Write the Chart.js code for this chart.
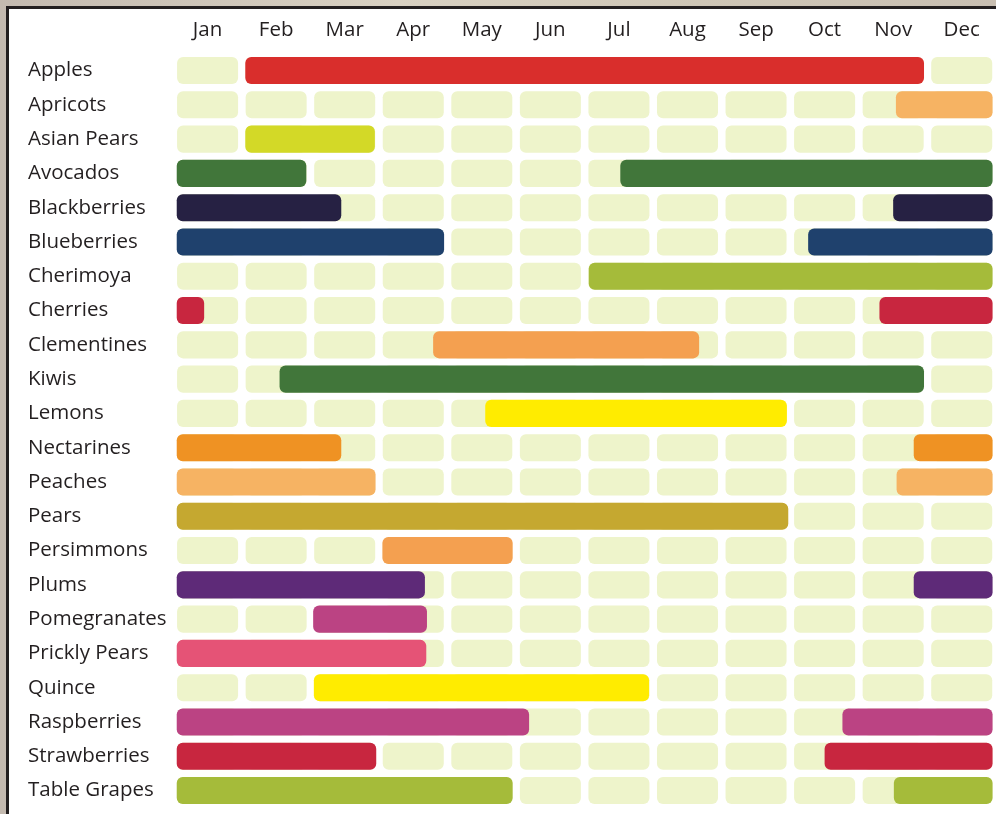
<!DOCTYPE html>
<html>
<head>
<meta charset="utf-8">
<script src="https://cdn.jsdelivr.net/npm/chart.js@4/dist/chart.umd.min.js"></script>
<style>
  html, body { margin: 0; padding: 0; }
  body {
    width: 996px; height: 814px; overflow: hidden; position: relative;
    background: linear-gradient(90deg, #c4bab0 0%, #d9d1c2 40%, #cfc6b6 70%, #c9bfb2 100%);
  }
  /* marco blanco con borde oscuro arriba e izquierda */
  #frame {
    position: absolute; left: 6px; top: 6px; right: 0; bottom: 0;
    background: #ffffff;
    border-left: 3px solid #231f20;
    border-top: 3px solid #231f20;
  }
  #seasonChart { position: absolute; left: 0; top: 0; }
</style>
</head>
<body>
<div id="frame"></div>
<canvas id="seasonChart" width="996" height="814"></canvas>
<script>
// Meses (etiquetas del eje superior)
const months = ['Jan', 'Feb', 'Mar', 'Apr', 'May', 'Jun', 'Jul', 'Aug', 'Sep', 'Oct', 'Nov', 'Dec'];

// Frutas (filas)
const fruits = [
    'Apples', 'Apricots', 'Asian Pears', 'Avocados', 'Blackberries', 'Blueberries',
    'Cherimoya', 'Cherries', 'Clementines', 'Kiwis', 'Lemons', 'Nectarines',
    'Peaches', 'Pears', 'Persimmons', 'Plums', 'Pomegranates', 'Prickly Pears',
    'Quince', 'Raspberries', 'Strawberries', 'Table Grapes'
];

// Temporada principal [inicio, fin] en meses (0 = inicio de enero, 12 = fin de diciembre)
const season1 = [
    [1.05, 10.95], [10.54, 11.95], [1.05, 2.94], [0.05, 1.94], [0.05, 2.45], [0.05, 3.95],
    [6.06, 11.95], [0.05, 0.45], [3.79, 7.67], [1.55, 10.95], [4.55, 8.95], [0.05, 2.45],
    [0.05, 2.95], [0.05, 8.97], [3.05, 4.95], [0.05, 3.67], [2.04, 3.70], [0.05, 3.69],
    [2.05, 6.94], [0.05, 5.19], [0.05, 2.96], [0.05, 4.95]
];

// Segunda temporada (fin de año), null si no hay
const season2 = [
    null, null, null, [6.52, 11.95], [10.50, 11.95], [9.26, 11.95],
    null, [10.30, 11.95], null, null, null, [10.80, 11.95],
    [10.55, 11.95], null, null, [10.80, 11.95], null, null,
    null, [9.76, 11.95], [9.50, 11.95], [10.51, 11.95]
];

// Color de cada fruta
const fruitColors = [
    '#d92e2c', '#f6b363', '#d3d927', '#41763a', '#262143', '#1f416d',
    '#a5bb3a', '#c8263f', '#f4a050', '#41763a', '#ffec00', '#ef9223',
    '#f6b363', '#c5a830', '#f4a050', '#5e2a78', '#bb4383', '#e55376',
    '#ffec00', '#bb4383', '#c8263f', '#a5bb3a'
];

const cellColor = '#eef4cb';
const textColor = '#231f20';

// Celdas de fondo: una por mes y fila
const cellDatasets = months.map(function(m, i) {
    return {
        label: m,
        data: fruits.map(function() { return [i + 0.055, i + 0.945]; }),
        backgroundColor: cellColor,
        borderRadius: 6,
        borderSkipped: false,
        grouped: false,
        order: 1
    };
});

function seasonDataset(name, values) {
    return {
        label: name,
        data: values,
        backgroundColor: fruitColors,
        borderRadius: 6,
        borderSkipped: false,
        grouped: false,
        order: 0
    };
}

const ctx = document.getElementById('seasonChart').getContext('2d');
new Chart(ctx, {
    type: 'bar',
    data: {
        labels: fruits,
        datasets: cellDatasets.concat([
            seasonDataset('Temporada 1', season1),
            seasonDataset('Temporada 2', season2)
        ])
    },
    options: {
        indexAxis: 'y',
        responsive: false,
        animation: false,
        datasets: {
            bar: {
                categoryPercentage: 1,
                barPercentage: 0.79
            }
        },
        plugins: {
            legend: { display: false },
            tooltip: { enabled: false }
        },
        layout: {
            padding: { top: 0, right: 0, bottom: 6.3, left: 28 }
        },
        scales: {
            x: {
                type: 'linear',
                position: 'top',
                min: 0,
                max: 12,
                grid: { display: false, drawTicks: false },
                border: { display: false },
                afterBuildTicks: function(scale) {
                    scale.ticks = months.map(function(m, i) { return { value: i + 0.5 }; });
                },
                afterFit: function(scale) {
                    scale.height = 53.4;
                },
                ticks: {
                    autoSkip: false,
                    maxRotation: 0,
                    padding: 10.5,
                    color: textColor,
                    font: { family: 'Open Sans', size: 20.5 },
                    callback: function(value, index) {
                        return months[index];
                    }
                }
            },
            y: {
                grid: { display: false },
                border: { display: false },
                afterFit: function(scale) {
                    scale.width = 145.3;
                    scale.paddingTop = 0;
                    scale.paddingBottom = 0;
                },
                ticks: {
                    crossAlign: 'far',
                    color: textColor,
                    font: { family: 'Open Sans', size: 20.5 }
                }
            }
        }
    }
});
</script>
</body>
</html>
